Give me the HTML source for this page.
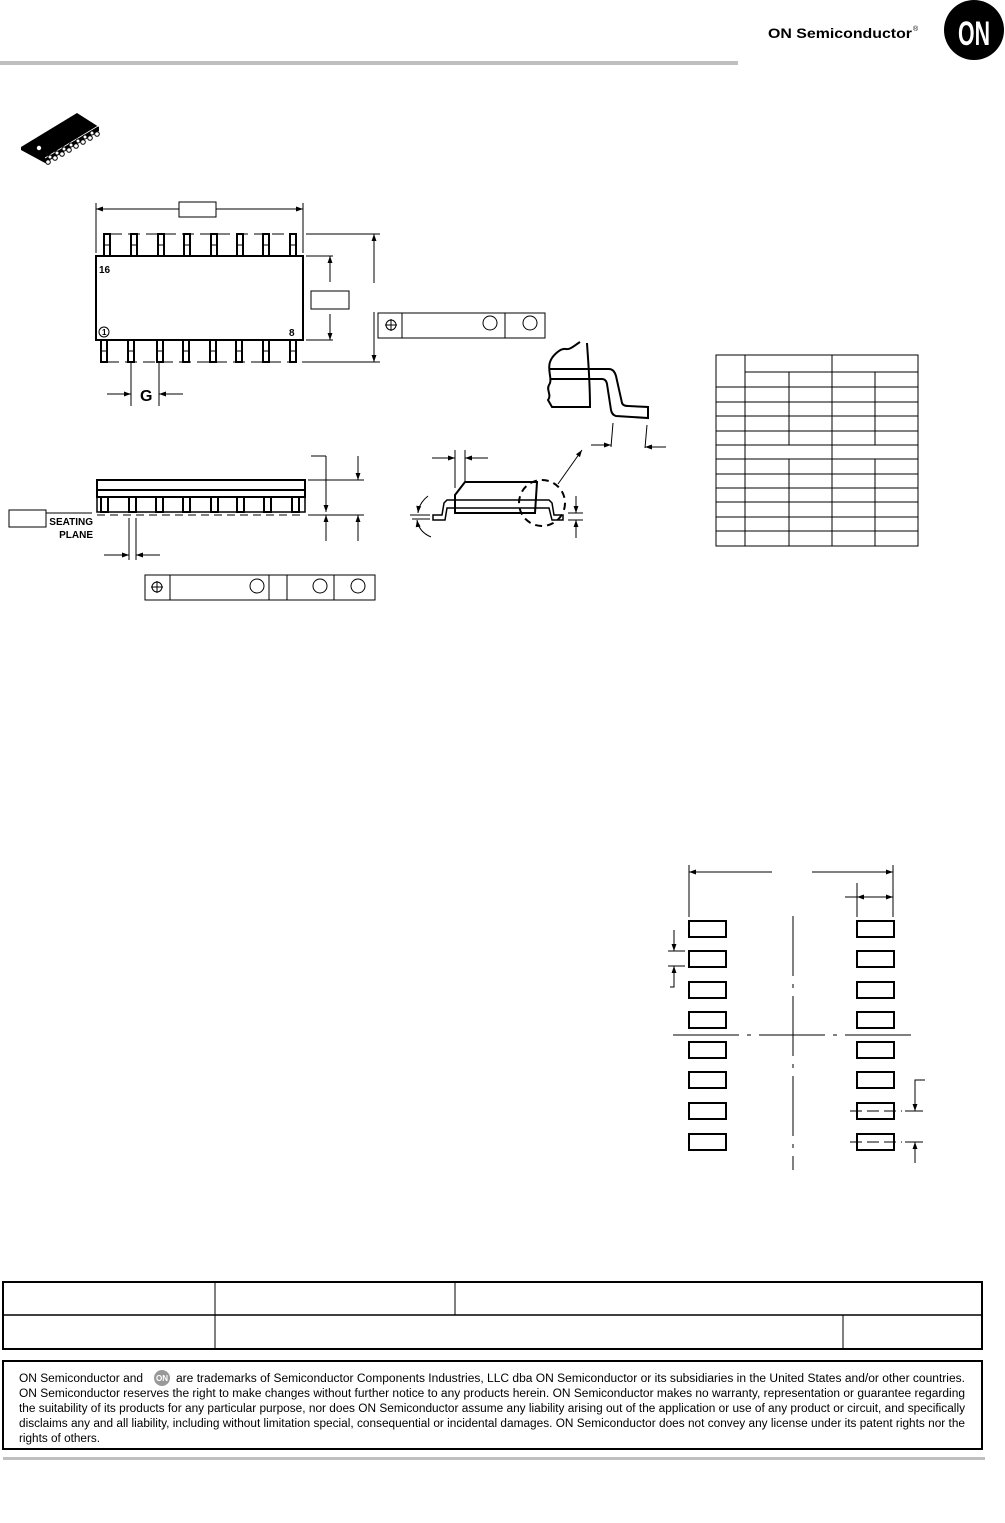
<!DOCTYPE html>
<html><head><meta charset="utf-8"><style>
html,body{margin:0;padding:0;background:#fff;}
svg{display:block;font-family:"Liberation Sans",sans-serif;}
</style></head><body>
<svg width="1005" height="1523" viewBox="0 0 1005 1523" xmlns="http://www.w3.org/2000/svg">
<defs>
<marker id="ar" viewBox="0 0 10 10" refX="10" refY="5" markerWidth="9" markerHeight="7" orient="auto-start-reverse" markerUnits="userSpaceOnUse"><path d="M0,1.5 L10,5 L0,8.5 z" fill="#000"/></marker>
</defs>
<!-- header -->
<text x="768" y="38" font-size="13.5" font-weight="bold" textLength="144" lengthAdjust="spacingAndGlyphs">ON Semiconductor</text>
<text x="913" y="31" font-size="7">®</text>
<circle cx="974" cy="30" r="30" fill="#000"/>
<text x="974" y="45" font-size="34" font-weight="bold" fill="#fff" text-anchor="middle" textLength="32" lengthAdjust="spacingAndGlyphs">ON</text>
<rect x="0" y="61" width="738" height="4" fill="#bfbfbf"/>
<!-- chip icon -->
<polygon points="21,147 77,113 99,127 99,131 45,163 21,150" fill="#000"/>
<circle cx="39" cy="148" r="2.2" fill="#fff"/>
<line x1="45" y1="158" x2="98" y2="126" stroke="#fff" stroke-width="0.8"/>
<g fill="#fff" stroke="#000" stroke-width="1">
<circle cx="48" cy="162" r="2.3"/><circle cx="55" cy="158" r="2.3"/><circle cx="62" cy="154" r="2.3"/><circle cx="69" cy="150" r="2.3"/><circle cx="76" cy="146" r="2.3"/><circle cx="83" cy="142" r="2.3"/><circle cx="90" cy="138" r="2.3"/><circle cx="97" cy="134" r="2.3"/>
<circle cx="50" cy="157" r="2"/><circle cx="57" cy="153" r="2"/><circle cx="64" cy="149" r="2"/><circle cx="71" cy="145" r="2"/><circle cx="78" cy="141" r="2"/><circle cx="85" cy="137" r="2"/><circle cx="92" cy="133" r="2"/>
</g>
<g fill="none" stroke="#000" stroke-width="1">
<!-- top view -->
<line x1="96" y1="203" x2="96" y2="253"/><line x1="303" y1="203" x2="303" y2="253"/>
<line x1="96" y1="209" x2="179" y2="209" marker-start="url(#ar)"/>
<line x1="216" y1="209" x2="303" y2="209" marker-end="url(#ar)"/>
<rect x="179" y="202" width="37" height="15"/>
<rect x="96" y="256" width="207" height="84" stroke-width="2"/>
<g stroke-width="2">
<rect x="104" y="234" width="6" height="22"/><rect x="131" y="234" width="6" height="22"/><rect x="158" y="234" width="6" height="22"/><rect x="184" y="234" width="6" height="22"/><rect x="211" y="234" width="6" height="22"/><rect x="237" y="234" width="6" height="22"/><rect x="263" y="234" width="6" height="22"/><rect x="290" y="234" width="6" height="22"/>
<rect x="101" y="340" width="6" height="22"/><rect x="128" y="340" width="6" height="22"/><rect x="157" y="340" width="6" height="22"/><rect x="183" y="340" width="6" height="22"/><rect x="210" y="340" width="6" height="22"/><rect x="236" y="340" width="6" height="22"/><rect x="263" y="340" width="6" height="22"/><rect x="290" y="340" width="6" height="22"/>
</g>
<line x1="104" y1="245" x2="110" y2="245"/><line x1="131" y1="245" x2="137" y2="245"/><line x1="158" y1="245" x2="164" y2="245"/><line x1="184" y1="245" x2="190" y2="245"/><line x1="211" y1="245" x2="217" y2="245"/><line x1="237" y1="245" x2="243" y2="245"/><line x1="263" y1="245" x2="269" y2="245"/><line x1="290" y1="245" x2="296" y2="245"/>
<line x1="101" y1="351" x2="107" y2="351"/><line x1="128" y1="351" x2="134" y2="351"/><line x1="157" y1="351" x2="163" y2="351"/><line x1="183" y1="351" x2="189" y2="351"/><line x1="210" y1="351" x2="216" y2="351"/><line x1="236" y1="351" x2="242" y2="351"/><line x1="263" y1="351" x2="269" y2="351"/><line x1="290" y1="351" x2="296" y2="351"/>
<line x1="110" y1="234" x2="290" y2="234" stroke-dasharray="12,6"/>
<line x1="107" y1="362" x2="290" y2="362" stroke-dasharray="12,6"/>
<circle cx="104" cy="332" r="5"/>
<!-- right dims -->
<line x1="306" y1="234" x2="380" y2="234"/><line x1="306" y1="256" x2="333" y2="256"/>
<line x1="306" y1="340" x2="333" y2="340"/><line x1="302" y1="362" x2="380" y2="362"/>
<line x1="330" y1="282" x2="330" y2="256" marker-end="url(#ar)"/>
<line x1="330" y1="314" x2="330" y2="340" marker-end="url(#ar)"/>
<rect x="311" y="291" width="38" height="18"/>
<line x1="374" y1="283" x2="374" y2="234" marker-end="url(#ar)"/>
<line x1="374" y1="312" x2="374" y2="362" marker-end="url(#ar)"/>
<rect x="378" y="313" width="167" height="25"/>
<line x1="402" y1="313" x2="402" y2="338"/><line x1="505" y1="313" x2="505" y2="338"/>
<circle cx="391" cy="325" r="5"/><line x1="385" y1="325" x2="397" y2="325"/><line x1="391" y1="319" x2="391" y2="331"/>
<circle cx="490" cy="323" r="7"/><circle cx="530" cy="323" r="7"/>
<!-- G -->
<line x1="131" y1="362" x2="131" y2="406"/><line x1="159" y1="362" x2="159" y2="406"/>
<line x1="107" y1="394" x2="131" y2="394" marker-end="url(#ar)"/>
<line x1="183" y1="394" x2="159" y2="394" marker-end="url(#ar)"/>
<!-- side view -->
<rect x="97" y="480" width="208" height="10" stroke-width="2"/>
<rect x="97" y="490" width="208" height="7" stroke-width="2"/>
<rect x="97" y="497" width="208" height="15" stroke-width="1.5"/>
<g stroke-width="2" fill="#fff">
<rect x="101" y="497" width="7" height="15"/><rect x="129" y="497" width="7" height="15"/><rect x="156" y="497" width="7" height="15"/><rect x="183" y="497" width="7" height="15"/><rect x="211" y="497" width="7" height="15"/><rect x="237" y="497" width="7" height="15"/><rect x="264" y="497" width="7" height="15"/><rect x="292" y="497" width="7" height="15"/>
</g>
<line x1="97" y1="515" x2="305" y2="515" stroke-dasharray="8,5"/>
<line x1="46" y1="513" x2="92" y2="513"/>
<rect x="9" y="510" width="37" height="17"/>
<line x1="311" y1="456" x2="326" y2="456"/>
<line x1="326" y1="456" x2="326" y2="512" marker-end="url(#ar)"/>
<line x1="308" y1="480" x2="364" y2="480"/><line x1="308" y1="515" x2="364" y2="515"/>
<line x1="358" y1="456" x2="358" y2="480" marker-end="url(#ar)"/>
<line x1="358" y1="541" x2="358" y2="515" marker-end="url(#ar)"/>
<line x1="326" y1="541" x2="326" y2="515" marker-end="url(#ar)"/>
<line x1="129" y1="518" x2="129" y2="560"/><line x1="136" y1="518" x2="136" y2="560"/>
<line x1="104" y1="555" x2="129" y2="555" marker-end="url(#ar)"/>
<line x1="160" y1="555" x2="136" y2="555" marker-end="url(#ar)"/>
<rect x="145" y="575" width="230" height="25"/>
<line x1="170" y1="575" x2="170" y2="600"/><line x1="269" y1="575" x2="269" y2="600"/><line x1="287" y1="575" x2="287" y2="600"/><line x1="334" y1="575" x2="334" y2="600"/>
<circle cx="157" cy="587" r="5"/><line x1="151" y1="587" x2="163" y2="587"/><line x1="157" y1="581" x2="157" y2="593"/>
<circle cx="257" cy="586" r="7"/><circle cx="320" cy="586" r="7"/><circle cx="358" cy="586" r="7"/>
<!-- detail upper -->
<path d="M580,342 C575,345 570,350 566,349 C560,348 552,356 550,362 C547,370 553,380 549,385 C546,390 552,395 548,400 L552,407 L590,407 C590,380 588,360 587,343" stroke-width="2"/>
<path d="M550,369 L609,369 Q614,369 616,376 L622,403 Q623,406 628,406 L648,407 L648,418 L616,416 Q612,415 611,410 L607,384 Q606,379 602,379 L550,379" stroke-width="2"/>
<line x1="613" y1="423" x2="611" y2="447"/><line x1="647" y1="425" x2="645" y2="448"/>
<line x1="591" y1="445" x2="611" y2="445" marker-end="url(#ar)"/>
<line x1="666" y1="447" x2="645" y2="447" marker-end="url(#ar)"/>
<!-- detail lower -->
<path d="M455,495 L465,482 L537,482 L535,513 L455,513 Z" stroke-width="2"/>
<path d="M433,515 L442,515 L444,503 L447,500 L549,500 L552,503 L554,515 L563,515 L563,520 L552,520 L549,508 L447,508 L445,520 L433,520 Z" stroke-width="1.5"/>
<circle cx="542" cy="503" r="23" stroke-width="2" stroke-dasharray="7,5"/>
<line x1="558" y1="484" x2="582" y2="450" marker-end="url(#ar)"/>
<line x1="455" y1="450" x2="455" y2="488"/><line x1="465" y1="450" x2="465" y2="483"/>
<line x1="432" y1="458" x2="455" y2="458" marker-end="url(#ar)"/>
<line x1="488" y1="458" x2="465" y2="458" marker-end="url(#ar)"/>
<line x1="410" y1="515" x2="430" y2="515"/><line x1="412" y1="519" x2="430" y2="519"/>
<path d="M428,496 Q419,503 418,513" marker-end="url(#ar)"/>
<path d="M431,537 Q419,532 417,520" marker-end="url(#ar)"/>
<line x1="568" y1="513" x2="583" y2="513"/><line x1="568" y1="520" x2="583" y2="520"/>
<line x1="576" y1="496" x2="576" y2="513" marker-end="url(#ar)"/>
<line x1="576" y1="538" x2="576" y2="520" marker-end="url(#ar)"/>
<!-- table -->
<rect x="716" y="355" width="202" height="191"/>
<line x1="745" y1="355" x2="745" y2="546"/>
<line x1="832" y1="355" x2="832" y2="546"/>
<line x1="745" y1="372" x2="918" y2="372"/>
<line x1="789" y1="372" x2="789" y2="445"/><line x1="875" y1="372" x2="875" y2="445"/>
<line x1="789" y1="459" x2="789" y2="546"/><line x1="875" y1="459" x2="875" y2="546"/>
<line x1="716" y1="387" x2="918" y2="387"/><line x1="716" y1="402" x2="918" y2="402"/><line x1="716" y1="416" x2="918" y2="416"/><line x1="716" y1="431" x2="918" y2="431"/><line x1="716" y1="445" x2="918" y2="445"/><line x1="716" y1="459" x2="918" y2="459"/><line x1="716" y1="474" x2="918" y2="474"/><line x1="716" y1="488" x2="918" y2="488"/><line x1="716" y1="502" x2="918" y2="502"/><line x1="716" y1="517" x2="918" y2="517"/><line x1="716" y1="531" x2="918" y2="531"/>
<!-- land pattern -->
<g stroke-width="2">
<rect x="689" y="921" width="37" height="16"/><rect x="689" y="951" width="37" height="16"/><rect x="689" y="982" width="37" height="16"/><rect x="689" y="1012" width="37" height="16"/><rect x="689" y="1042" width="37" height="16"/><rect x="689" y="1072" width="37" height="16"/><rect x="689" y="1103" width="37" height="16"/><rect x="689" y="1134" width="37" height="16"/>
<rect x="857" y="921" width="37" height="16"/><rect x="857" y="951" width="37" height="16"/><rect x="857" y="982" width="37" height="16"/><rect x="857" y="1012" width="37" height="16"/><rect x="857" y="1042" width="37" height="16"/><rect x="857" y="1072" width="37" height="16"/><rect x="857" y="1103" width="37" height="16"/><rect x="857" y="1134" width="37" height="16"/>
</g>
<line x1="793" y1="916" x2="793" y2="1170" stroke-dasharray="60,8,4,8"/>
<line x1="673" y1="1035" x2="912" y2="1035" stroke-dasharray="66,8,4,8"/>
<line x1="689" y1="865" x2="689" y2="917"/><line x1="893" y1="865" x2="893" y2="917"/>
<line x1="772" y1="872" x2="689" y2="872" marker-end="url(#ar)"/>
<line x1="812" y1="872" x2="893" y2="872" marker-end="url(#ar)"/>
<line x1="857" y1="883" x2="857" y2="917"/>
<line x1="845" y1="897" x2="857" y2="897"/>
<line x1="875" y1="897" x2="857" y2="897" marker-end="url(#ar)"/>
<line x1="875" y1="897" x2="893" y2="897" marker-end="url(#ar)"/>
<line x1="668" y1="951" x2="685" y2="951"/><line x1="668" y1="966" x2="685" y2="966"/>
<line x1="674" y1="930" x2="674" y2="951" marker-end="url(#ar)"/>
<path d="M670,987 L674,987 L674,966" marker-end="url(#ar)"/>
<line x1="850" y1="1111" x2="902" y2="1111" stroke-dasharray="12,5"/>
<line x1="850" y1="1142" x2="902" y2="1142" stroke-dasharray="12,5"/>
<line x1="905" y1="1111" x2="923" y2="1111"/><line x1="905" y1="1142" x2="923" y2="1142"/>
<path d="M925,1080 L915,1080 L915,1111" marker-end="url(#ar)"/>
<line x1="915" y1="1163" x2="915" y2="1142" marker-end="url(#ar)"/>
<!-- footer table -->
<rect x="3" y="1282" width="979" height="67" stroke-width="2"/>
<line x1="3" y1="1315" x2="982" y2="1315" stroke-width="1.5"/>
<line x1="215" y1="1282" x2="215" y2="1349"/><line x1="455" y1="1282" x2="455" y2="1315"/><line x1="843" y1="1315" x2="843" y2="1349"/>
<rect x="3" y="1361" width="979" height="88" stroke-width="2"/>
</g>
<!-- labels -->
<g font-weight="bold" font-size="10">
<text x="99" y="273">16</text>
<text x="289" y="336">8</text>
<text x="102" y="335" font-size="8">1</text>
<text x="93" y="525" text-anchor="end">SEATING</text>
<text x="93" y="538" text-anchor="end">PLANE</text>
</g>
<text x="140" y="401" font-size="16" font-weight="bold">G</text>
<g font-size="11.5" font-family="'Liberation Sans Narrow','Liberation Sans',sans-serif">
<text x="19" y="1382" textLength="124" lengthAdjust="spacingAndGlyphs">ON Semiconductor and</text>
<circle cx="162" cy="1378" r="8" fill="#999"/>
<text x="162" y="1381" font-size="8" fill="#fff" text-anchor="middle" font-weight="bold">ON</text>
<text x="176" y="1382" textLength="789" lengthAdjust="spacingAndGlyphs">are trademarks of Semiconductor Components Industries, LLC dba ON Semiconductor or its subsidiaries in the United States and/or other countries.</text>
<text x="19" y="1397" textLength="946" lengthAdjust="spacingAndGlyphs">ON Semiconductor reserves the right to make changes without further notice to any products herein. ON Semiconductor makes no warranty, representation or guarantee regarding</text>
<text x="19" y="1412" textLength="946" lengthAdjust="spacingAndGlyphs">the suitability of its products for any particular purpose, nor does ON Semiconductor assume any liability arising out of the application or use of any product or circuit, and specifically</text>
<text x="19" y="1427" textLength="946" lengthAdjust="spacingAndGlyphs">disclaims any and all liability, including without limitation special, consequential or incidental damages. ON Semiconductor does not convey any license under its patent rights nor the</text>
<text x="19" y="1442" textLength="81" lengthAdjust="spacingAndGlyphs">rights of others.</text>
</g>
<rect x="3" y="1457" width="982" height="3" fill="#bfbfbf"/>
</svg>
</body></html>
